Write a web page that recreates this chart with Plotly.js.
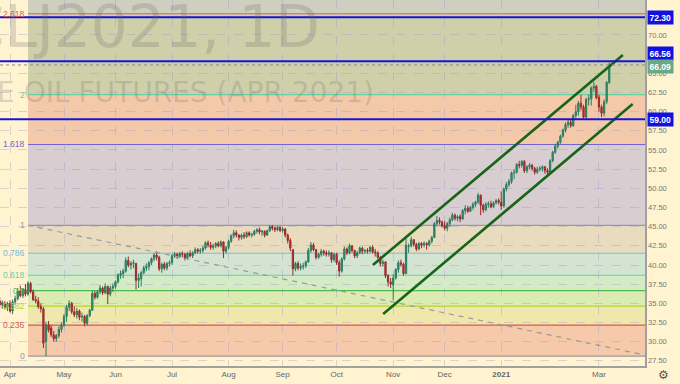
<!DOCTYPE html>
<html><head><meta charset="utf-8">
<script src="https://cdn.plot.ly/plotly-3.0.1.min.js"></script>
<style>html,body{margin:0;padding:0;background:#fff3d0;}#chart{width:680px;height:384px;}</style>
</head><body><div id="chart"></div>
<script>
// ---- data ----
const startDate = '2020-03-26';
const holidays = ['2020-04-10','2020-05-25','2020-07-03','2020-09-07','2020-11-26','2020-12-25','2021-01-01','2021-01-18','2021-02-15'];
const opens = [35.3,34.8,35.0,34.5,35.0,34.0,35.2,35.6,36.6,36.0,
36.8,36.2,37.6,36.5,35.5,35.3,34.6,34.3,30.0,32.2,
31.8,30.9,30.4,30.8,31.6,32.2,33.3,34.5,35.0,33.9,
33.5,34.0,33.2,33.3,32.4,33.4,34.1,36.3,35.8,36.5,
37.0,36.4,37.2,36.2,37.0,37.2,37.8,38.7,38.9,39.2,
40.6,40.0,40.2,40.2,38.0,38.2,39.0,39.6,39.8,40.3,
40.8,41.3,41.0,39.5,40.1,39.6,40.2,40.3,41.2,41.4,
41.1,41.5,41.4,40.9,41.5,41.2,41.6,42.0,41.8,41.9,
42.2,42.9,42.6,42.3,42.5,42.8,42.5,43.0,41.8,42.3,
43.1,43.8,44.2,43.9,43.6,43.9,43.7,44.2,43.9,44.0,
44.4,44.6,44.3,44.4,43.9,44.5,45.0,44.8,44.6,44.9,
44.5,44.7,43.9,43.2,42.0,39.5,40.2,39.6,39.8,39.9,
40.4,41.9,42.6,42.0,41.0,41.4,41.8,41.6,41.4,41.6,
40.7,41.4,40.3,39.2,40.8,42.1,41.6,42.5,41.9,41.2,
41.6,42.2,41.8,41.9,41.8,42.3,41.7,41.6,41.0,40.2,
40.4,38.6,37.8,37.4,38.3,39.4,40.3,40.1,38.9,42.4,
42.5,43.3,42.7,42.1,42.8,42.6,42.8,42.6,43.1,43.6,
45.4,45.8,45.6,45.1,44.8,45.4,45.9,46.5,46.1,46.3,
46.0,47.1,47.4,47.0,47.5,47.9,48.2,49.1,47.8,47.2,
47.9,48.0,47.6,48.1,48.4,48.2,47.7,49.9,50.5,50.9,
52.0,52.1,53.1,53.0,53.5,52.3,52.8,53.0,52.6,52.1,
52.5,52.6,52.8,52.3,52.1,53.6,54.7,55.5,56.0,56.8,
57.6,58.3,58.6,58.2,59.5,60.0,61.1,60.6,59.3,61.6,
61.7,63.1,63.3,61.9,60.6,59.8,61.3,63.8];
const highs = [35.8,35.4,35.3,35.2,35.4,35.5,36.0,37.0,37.3,37.0,
37.5,37.9,37.8,36.8,36.0,35.8,35.0,34.5,32.6,32.7,
32.2,31.4,31.0,32.0,32.5,33.6,34.8,35.4,35.2,34.6,
34.4,34.2,33.8,33.5,33.6,34.3,36.6,36.6,36.7,37.4,
37.2,37.6,37.3,37.3,37.6,38.0,38.9,39.3,39.5,41.0,
41.1,40.5,40.7,40.3,38.9,39.2,39.9,40.2,40.5,41.0,
41.6,41.8,41.2,40.3,40.4,40.4,40.6,41.4,41.7,41.6,
41.7,41.8,41.6,41.7,41.9,41.8,42.3,42.2,42.2,42.5,
43.1,43.2,43.0,42.8,43.0,43.1,43.2,43.1,42.5,43.3,
44.0,44.6,44.5,44.0,44.1,44.3,44.4,44.4,44.2,44.6,
44.8,44.9,44.6,44.5,44.6,45.2,45.2,45.0,45.1,45.1,
45.0,44.8,44.1,43.5,42.1,40.4,40.5,40.2,40.3,40.6,
42.2,43.0,42.9,42.1,41.6,42.1,42.0,41.9,41.9,41.7,
41.6,41.6,40.6,41.0,42.4,42.3,42.8,42.6,42.0,41.8,
42.4,42.4,42.1,42.2,42.5,42.6,42.1,41.8,41.2,40.7,
40.5,38.8,38.3,38.8,39.6,40.6,40.7,40.3,43.6,42.8,
43.7,43.4,42.9,43.0,43.0,43.1,43.0,43.3,43.8,45.6,
46.4,46.2,45.8,45.7,45.6,46.2,46.8,46.7,46.5,46.6,
47.3,47.8,47.7,47.7,48.2,48.4,49.4,49.2,48.0,48.2,
48.3,48.4,48.3,48.6,48.7,49.6,50.1,50.8,51.2,52.2,
52.5,53.3,53.6,53.7,53.7,53.0,53.3,53.2,52.8,52.8,
52.9,53.0,52.9,52.6,53.8,54.9,55.8,56.2,57.0,57.8,
58.6,58.9,59.0,59.7,60.9,61.4,62.2,60.9,61.8,62.2,
63.3,63.9,63.5,62.2,60.9,61.6,64.0,66.4];
const lows = [34.5,34.3,34.2,34.0,33.8,33.6,34.8,35.4,35.8,35.7,
35.9,36.0,36.3,35.3,35.0,34.3,33.8,29.2,28.13,31.2,
30.6,30.0,30.0,30.5,31.2,31.9,32.6,34.0,33.6,33.2,
33.0,32.8,32.6,32.0,32.1,33.2,34.0,35.5,35.6,36.2,
36.1,36.2,34.9,35.9,36.5,36.9,37.6,38.2,38.3,39.0,
39.7,39.4,39.6,36.8,37.0,37.2,38.8,39.2,39.3,40.0,
40.5,40.6,39.2,39.0,39.3,39.3,39.8,40.0,40.9,40.8,
40.9,41.0,40.6,40.7,41.0,40.9,41.4,41.5,41.5,41.6,
42.0,42.3,42.0,42.0,42.2,42.3,42.3,40.9,41.5,42.0,
42.9,43.5,43.6,43.2,43.3,43.4,43.5,43.7,43.6,43.8,
44.1,44.0,43.8,43.6,43.8,44.3,44.5,44.3,44.4,44.3,
44.2,43.6,42.8,41.8,38.6,39.2,39.3,39.3,39.4,39.6,
40.3,41.6,41.8,40.7,40.8,41.1,41.2,41.1,41.1,40.3,
40.4,40.0,38.5,39.0,40.6,41.3,41.4,41.6,40.9,40.9,
41.4,41.4,41.5,41.5,41.6,41.5,41.1,40.8,39.8,39.8,
38.3,37.2,37.0,35.4,38.1,39.0,39.8,38.6,38.8,41.6,
42.3,42.4,41.8,41.9,42.2,42.3,42.0,42.4,42.8,43.5,
45.1,45.3,44.9,44.5,44.4,45.0,45.7,45.8,45.7,45.6,
45.9,46.6,46.8,46.9,47.2,47.6,48.0,46.5,46.8,47.0,
47.5,47.4,47.5,47.9,47.9,47.2,47.5,49.6,50.2,50.6,
51.2,51.9,52.6,52.7,52.0,52.0,52.5,52.3,51.8,51.9,
52.2,52.2,51.9,51.7,52.0,53.4,54.5,55.2,55.8,56.6,
57.3,57.9,57.9,58.0,59.2,59.5,60.2,59.0,58.9,60.8,
60.8,62.6,61.6,60.0,59.3,59.4,61.0,63.6];
const closes = [34.8,35.1,34.5,35.0,34.0,35.2,35.6,36.6,36.0,36.8,
36.2,37.6,36.5,35.5,35.3,34.6,34.3,29.8,32.2,31.5,
30.9,30.4,30.8,31.6,32.2,33.3,34.5,35.0,33.9,33.5,
34.0,33.2,33.3,32.4,33.4,34.1,36.3,35.8,36.5,37.0,
36.4,37.2,36.2,37.0,37.2,37.8,38.7,38.9,39.2,40.6,
40.0,40.2,40.3,38.0,38.3,39.0,39.6,39.8,40.3,40.8,
41.3,41.0,39.5,40.1,39.6,40.2,40.3,41.2,41.4,41.1,
41.5,41.4,40.9,41.5,41.2,41.6,42.0,41.8,41.9,42.2,
42.9,42.6,42.3,42.5,42.8,42.5,43.0,41.8,42.3,43.1,
43.8,44.2,43.9,43.6,43.9,43.7,44.2,43.9,44.0,44.4,
44.6,44.3,44.4,43.9,44.5,45.0,44.8,44.6,44.9,44.5,
44.7,43.9,43.2,42.2,39.5,40.2,39.6,39.8,39.9,40.4,
41.9,42.6,42.0,41.0,41.4,41.8,41.6,41.4,41.6,40.7,
41.4,40.3,39.2,40.8,42.1,41.6,42.5,41.9,41.2,41.6,
42.2,41.8,41.9,41.8,42.3,41.7,41.6,41.0,40.2,40.4,
38.6,37.8,37.5,38.3,39.4,40.3,40.1,38.9,42.6,42.5,
43.3,42.7,42.1,42.8,42.6,42.8,42.6,43.1,43.6,45.4,
45.8,45.6,45.1,44.8,45.4,45.9,46.5,46.1,46.3,46.0,
47.1,47.4,47.0,47.5,47.9,48.2,49.1,47.8,47.2,47.9,
48.0,47.6,48.1,48.4,48.2,47.7,49.9,50.5,50.9,52.0,
52.1,53.1,53.0,53.5,52.3,52.8,53.0,52.6,52.1,52.5,
52.6,52.8,52.3,52.1,53.6,54.7,55.5,56.0,56.8,57.6,
58.3,58.6,58.2,59.5,60.0,61.1,60.6,59.3,61.6,61.7,
63.1,63.3,61.8,60.6,59.8,61.3,63.8,66.09];

const monthKeys = ['2020-04','2020-05','2020-06','2020-07','2020-08','2020-09','2020-10','2020-11','2020-12','2021-01','2021-03'];
const monthLabels = ['Apr','May','Jun','Jul','Aug','Sep','Oct','Nov','Dec','<b>2021</b>','Mar'];
const yTickVals = [27.5,30,32.5,35,37.5,40,42.5,45,47.5,50,52.5,55,57.5,60,62.5,65,70];

// Fibonacci retracement tool
const fibZero = 28.13, fibOne = 45.18, fibStart = 11;
const fibRatios = [0,0.236,0.382,0.5,0.618,0.786,1,1.618,2,2.618];
const fibLabels = ['0','0.236','0.382','0.5','0.618','0.786','1','1.618','2','2.618'];
const fibLineColors = ['#9a9a9a','#e0553d','#b5d330','#4cbb47','#66d19e','#6cc0e0','#9a9a9a','#7464d2','#66d19e','#e05a5a'];
const fibBandColors = ['#f5c9aa','#efe7ab','#dcebb3','#d5ebc6','#d3e4d2','#e9dcbe','#d8cdd0','#f4c9a9','#cfcfa9','#cfcfbf'];

// drawings
const hLevels = [72.30, 66.56, 59.00];
const hLabelShift = [0, 7.5, 0];
const channelUpperX = [145.1, 242.3], channelUpperY = [40.0, 67.39];
const channelLowerX = [149.1, 246.1], channelLowerY = [33.6, 61.0];
const trendX = [11.0, 250.9], trendY = [45.18, 28.26];

const xRange = [0.112, 250.9];
const yRange = [26.83, 74.56];

// ---- build ----
function tradingDays(start, count, hol){
  const out=[]; const d=new Date(start+'T00:00:00Z');
  while(out.length<count){
    const wd=d.getUTCDay(); const s=d.toISOString().slice(0,10);
    if(wd!==0 && wd!==6 && !hol.includes(s)) out.push(s);
    d.setUTCDate(d.getUTCDate()+1);
  }
  return out;
}
const dates = tradingDays(startDate, closes.length, holidays);
const xIdx = dates.map((_,i)=>i);
const tickVals = monthKeys.map(k=>dates.findIndex(s=>s.startsWith(k)));
const fibPrices = fibRatios.map(r=>fibZero + r*(fibOne-fibZero));
const lastClose = closes[closes.length-1];

const FONT = 'Liberation Sans, Arial, sans-serif';
const shapes = [];
for(let k=0;k<fibPrices.length;k++){
  const y0 = fibPrices[k];
  const y1 = k+1<fibPrices.length ? fibPrices[k+1] : yRange[1];
  shapes.push({type:'rect',layer:'below',xref:'x',yref:'y',x0:fibStart,x1:xRange[1],y0:y0,y1:y1,
    fillcolor:fibBandColors[k],line:{width:0}});
}
fibPrices.forEach((p,k)=>{
  shapes.push({type:'line',layer:'below',xref:'x',yref:'y',x0:fibStart,x1:xRange[1],y0:p,y1:p,
    line:{color:fibLineColors[k],width:1.2}});
});
shapes.push({type:'line',xref:'paper',yref:'y',x0:0,x1:1,y0:lastClose,y1:lastClose,
  line:{color:'#8a8a8a',width:1,dash:'dot'}});
hLevels.forEach(v=>{
  shapes.push({type:'line',xref:'paper',yref:'y',x0:0,x1:1,y0:v,y1:v,line:{color:'#1414d4',width:2}});
});

const annotations = [];
fibPrices.forEach((p,k)=>{
  annotations.push({xref:'x',yref:'y',x:fibStart,y:p,xanchor:'right',yanchor:'middle',xshift:-1,
    text:fibLabels[k],showarrow:false,font:{family:FONT,size:8.5,color:fibLineColors[k]}});
});
// watermark
annotations.push({xref:'paper',yref:'paper',x:322/645,y:1-27/366,xanchor:'right',yanchor:'middle',
  text:'CLJ2021, 1D',showarrow:false,font:{family:'DejaVu Sans',size:58,color:'rgba(100,100,100,0.22)'}});
annotations.push({xref:'paper',yref:'paper',x:376/645,y:1-92/366,xanchor:'right',yanchor:'middle',
  text:'CRUDE OIL FUTURES (APR 2021)',showarrow:false,font:{family:'DejaVu Sans',size:28,color:'rgba(100,100,100,0.22)'}});
hLevels.forEach((v,k)=>{
  annotations.push({xref:'paper',yref:'y',x:1,y:v,xanchor:'left',yanchor:'middle',xshift:1.5,yshift:hLabelShift[k],
    text:'<b>'+v.toFixed(2)+'</b>',showarrow:false,bgcolor:'#1212e0',borderpad:1.5,
    font:{family:FONT,size:8.5,color:'#ffffff'}});
});
annotations.push({xref:'paper',yref:'y',x:1,y:lastClose,xanchor:'left',yanchor:'middle',xshift:1.5,yshift:-1.5,
  text:'<b>'+lastClose.toFixed(2)+'</b>',showarrow:false,bgcolor:'#6aa886',borderpad:1.5,
  font:{family:FONT,size:8.5,color:'#ffffff'}});
annotations.push({xref:'paper',yref:'paper',x:1,y:0,xanchor:'center',yanchor:'middle',xshift:18,yshift:-9,
  text:'⚙',showarrow:false,font:{family:'DejaVu Sans',size:12,color:'#555'}});

const traces = [
  {type:'scatter',mode:'lines',x:trendX,y:trendY,line:{color:'#9a9a9a',width:1.2,dash:'5px,5px'},hoverinfo:'skip'},
  {type:'candlestick',x:xIdx,open:opens,high:highs,low:lows,close:closes,text:dates,
    increasing:{line:{color:'#2a7c5e',width:1},fillcolor:'#3a9373'},
    decreasing:{line:{color:'#9b2a2a',width:1},fillcolor:'#b13838'},
    whiskerwidth:0},
  {type:'scatter',mode:'lines',x:channelUpperX,y:channelUpperY,line:{color:'#176517',width:2.6},hoverinfo:'skip'},
  {type:'scatter',mode:'lines',x:channelLowerX,y:channelLowerY,line:{color:'#176517',width:2.6},hoverinfo:'skip'}
];

const layout = {
  width:680,height:384,margin:{l:0,r:35,t:0,b:18},
  paper_bgcolor:'#fff3d0',plot_bgcolor:'#fff3d0',showlegend:false,hovermode:false,
  xaxis:{range:xRange,tickmode:'array',tickvals:tickVals,ticktext:monthLabels,
    showgrid:true,gridcolor:'rgba(150,150,195,0.35)',griddash:'dash',gridwidth:1,
    zeroline:false,showline:true,linecolor:'#a0a0a0',linewidth:1.5,ticks:'',
    tickfont:{family:FONT,size:8,color:'#666'},rangeslider:{visible:false},fixedrange:true},
  yaxis:{range:yRange,side:'right',tickmode:'array',tickvals:yTickVals,
    ticktext:yTickVals.map(v=>v.toFixed(2)),
    showgrid:true,gridcolor:'rgba(150,150,195,0.35)',griddash:'dash',gridwidth:1,
    zeroline:false,showline:true,linecolor:'#a0a0a0',linewidth:1.5,ticks:'',
    tickfont:{family:FONT,size:7.5,color:'#777'},fixedrange:true},
  shapes:shapes,annotations:annotations
};
Plotly.newPlot('chart',traces,layout,{displayModeBar:false,staticPlot:true});
</script></body></html>
